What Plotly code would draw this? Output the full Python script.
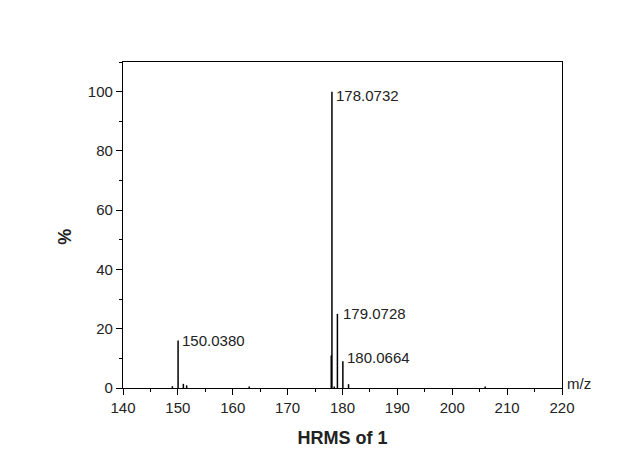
import plotly.graph_objects as go

mz = [149.0, 150.038, 151.0, 151.6, 163.0, 177.95, 178.0732, 178.5, 179.0728, 180.0664, 181.1, 206.0]
intensity = [0.6, 16.0, 1.4, 0.9, 0.5, 11.0, 100.0, 0.5, 25.0, 9.0, 1.3, 0.5]
label_mz = [150.0380, 178.0732, 179.0728, 180.0664]
label_int = [16.0, 100.0, 25.0, 9.0]
label_text = ["150.0380", "178.0732", "179.0728", "180.0664"]

# pixel nudges for the peak labels (style only)
label_shift = {"150.0380": (2, 0), "178.0732": (2, -4), "179.0728": (4, 0), "180.0664": (2, 4)}

xs, ys = [], []
for m, h in zip(mz, intensity):
    xs += [m, m, None]
    ys += [0, h, None]

fig = go.Figure()
fig.add_trace(go.Scatter(x=xs, y=ys, mode="lines",
                         line=dict(color="black", width=1.5),
                         hoverinfo="skip", showlegend=False))

for m, h, t in zip(label_mz, label_int, label_text):
    dx, dy = label_shift[t]
    fig.add_annotation(x=m, y=h, text=t, showarrow=False,
                       xanchor="left", yanchor="middle", xshift=dx, yshift=dy,
                       font=dict(size=15, color="#222"))

fig.add_annotation(x=1, y=0, xref="paper", yref="paper", text="m/z",
                   showarrow=False, xanchor="left", yanchor="bottom",
                   xshift=3, yshift=-6, font=dict(size=15, color="#222"))

fig.add_annotation(x=0, y=51, xref="paper", yref="y", text="<b>%</b>",
                   showarrow=False, textangle=-90, xanchor="center", yanchor="middle",
                   xshift=-58, font=dict(size=18, color="#222"))

axis_common = dict(showgrid=False, zeroline=False, showline=True,
                   linecolor="black", linewidth=1.2, mirror=True,
                   ticks="outside", ticklen=6, tickwidth=1.2, tickcolor="black",
                   tickfont=dict(size=15, color="#222"))

fig.update_xaxes(range=[140, 220], tickmode="linear", tick0=140, dtick=10,
                 minor=dict(ticks="outside", ticklen=3, dtick=5, tick0=140,
                            tickcolor="black", tickwidth=1.2),
                 title=dict(text="<b>HRMS of 1</b>", font=dict(size=18, color="#222"), standoff=16),
                 **axis_common)
fig.update_yaxes(range=[0, 110], tickmode="linear", tick0=0, dtick=20,
                 minor=dict(ticks="outside", ticklen=3, dtick=10, tick0=0,
                            tickcolor="black", tickwidth=1.2),
                 **axis_common)

fig.update_layout(width=639, height=454,
                  margin=dict(l=115, r=85, t=54, b=74),
                  paper_bgcolor="white", plot_bgcolor="white",
                  font=dict(family="Liberation Sans, Arial, sans-serif"))

fig.write_html("out.html")
